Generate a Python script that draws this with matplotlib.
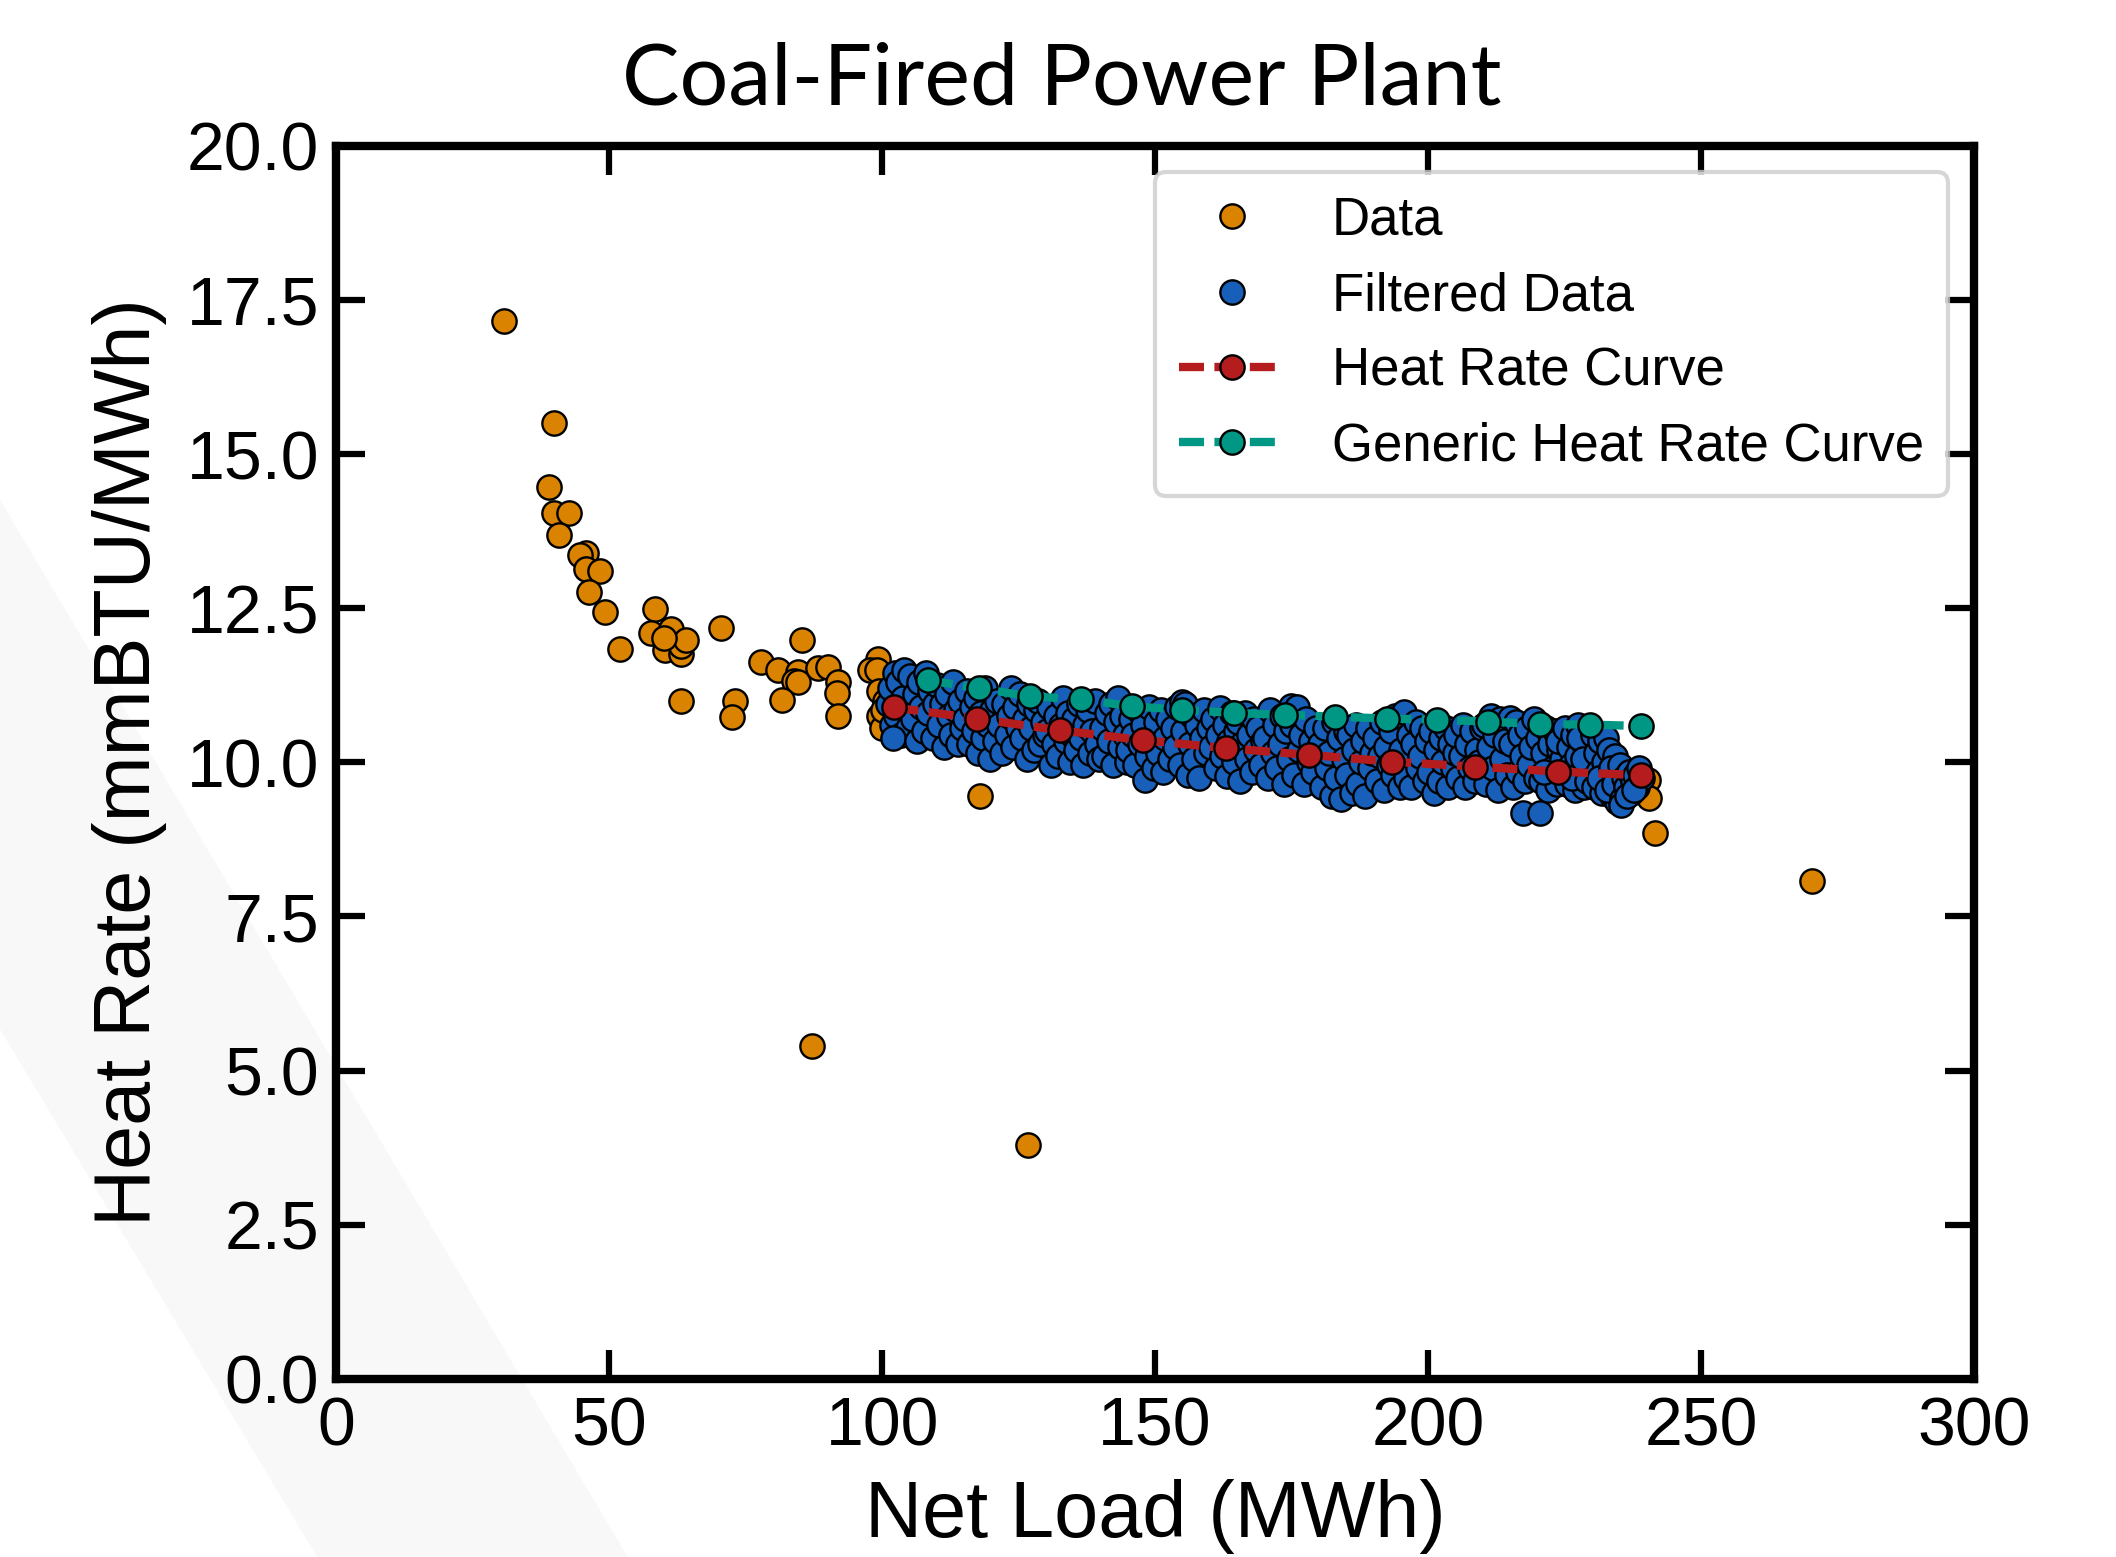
import matplotlib
matplotlib.use("Agg")
import matplotlib.pyplot as plt
from matplotlib.patches import Polygon

# ---------------- data ----------------
data_load = [30.8, 39.9, 39.0, 39.9, 42.7, 40.9, 45.7, 44.7, 45.7, 48.3, 46.4, 49.3,
             58.4, 52.0, 57.6, 61.4, 60.2, 63.1, 63.1, 64.1, 60.0, 63.1, 70.5, 73.1,
             72.5, 77.9, 80.9, 84.6, 83.9, 84.6, 81.6, 85.3, 88.3, 90.1, 91.9, 91.8,
             91.9, 99.3, 97.8, 99.0, 99.5, 99.5, 100.0, 100.5, 100.2, 87.2, 126.8,
             117.9, 241.6, 270.3, 240.3, 240.5]
data_rate = [17.16, 15.50, 14.46, 14.04, 14.04, 13.68, 13.40, 13.37, 13.13, 13.10, 12.77, 12.43,
             12.49, 11.84, 12.10, 12.17, 11.82, 11.75, 11.89, 11.99, 12.02, 10.99, 12.18, 10.99,
             10.73, 11.63, 11.49, 11.47, 11.32, 11.30, 11.01, 11.98, 11.53, 11.54, 11.30, 11.12,
             10.75, 11.67, 11.49, 11.49, 11.15, 10.75, 10.55, 11.00, 10.85, 5.40, 3.79,
             9.45, 8.85, 8.07, 9.71, 9.42]

filtered_load = [
    101.0, 101.5, 101.8, 102.3, 102.6, 103.0, 103.4, 103.8, 104.1, 104.5, 104.8, 102.0,
    105.2, 105.6, 106.0, 106.4, 106.8, 107.2, 107.6, 108.0, 108.4, 108.8, 109.3, 109.7,
    110.1, 110.5, 110.9, 111.3, 111.8, 112.2, 112.6, 113.0, 113.5, 113.9, 114.3, 114.7,
    115.1, 115.5, 115.9, 116.4, 116.8, 117.2, 117.6, 118.1, 118.5, 118.9, 119.4, 119.8,
    120.2, 120.6, 121.0, 121.5, 121.9, 122.3, 122.8, 123.2, 123.6, 124.0, 124.4, 124.8,
    125.2, 125.6, 126.1, 126.5, 126.9, 127.3, 127.8, 128.2, 128.6, 129.0, 129.5, 129.9,
    130.2, 130.6, 131.0, 131.4, 131.9, 132.3, 132.7, 133.1, 133.6, 134.0, 134.4, 134.8,
    135.1, 135.5, 136.0, 136.4, 136.8, 137.2, 137.7, 138.1, 138.5, 138.9, 139.4, 139.8,
    140.2, 140.6, 141.1, 141.5, 141.9, 142.3, 142.8, 143.2, 143.6, 144.0, 144.5, 144.9,
    145.1, 145.5, 146.0, 146.4, 146.8, 147.2, 147.7, 148.1, 148.5, 148.9, 149.4, 149.8,
    150.2, 150.6, 151.1, 151.5, 151.9, 152.3, 152.8, 153.2, 153.6, 154.0, 154.5, 154.9,
    155.1, 155.5, 156.0, 156.4, 156.8, 157.2, 157.7, 158.1, 158.5, 158.9, 159.4, 159.8,
    160.2, 160.6, 161.1, 161.5, 161.9, 162.3, 162.8, 163.2, 163.6, 164.0, 164.5, 164.9,
    165.1, 165.5, 166.0, 166.4, 166.8, 167.2, 167.7, 168.1, 168.5, 168.9, 169.4, 169.8,
    170.2, 170.6, 171.1, 171.5, 171.9, 172.3, 172.8, 173.2, 173.6, 174.0, 174.5, 174.9,
    175.1, 175.5, 176.0, 176.4, 176.8, 177.2, 177.7, 178.1, 178.5, 178.9, 179.4, 179.8,
    180.2, 180.6, 181.1, 181.5, 181.9, 182.3, 182.8, 183.2, 183.6, 184.0, 184.5, 184.9,
    185.1, 185.5, 186.0, 186.4, 186.8, 187.2, 187.7, 188.1, 188.5, 188.9, 189.4, 189.8,
    190.2, 190.6, 191.1, 191.5, 191.9, 192.3, 192.8, 193.2, 193.6, 194.0, 194.5, 194.9,
    195.1, 195.5, 196.0, 196.4, 196.8, 197.2, 197.7, 198.1, 198.5, 198.9, 199.4, 199.8,
    200.2, 200.6, 201.1, 201.5, 201.9, 202.3, 202.8, 203.2, 203.6, 204.0, 204.5, 204.9,
    205.1, 205.5, 206.0, 206.4, 206.8, 207.2, 207.7, 208.1, 208.5, 208.9, 209.4, 209.8,
    210.2, 210.6, 211.1, 211.5, 211.9, 212.3, 212.8, 213.2, 213.6, 214.0, 214.5, 214.9,
    215.1, 215.5, 216.0, 216.4, 216.8, 217.2, 217.7, 218.1, 218.5, 218.9, 219.4, 219.8, 217.4, 220.4,
    220.2, 220.6, 221.1, 221.5, 221.9, 222.3, 222.8, 223.2, 223.6, 224.0, 224.5, 224.9, 221.3, 223.8,
    225.1, 225.4, 225.8, 226.1, 226.5, 226.8, 227.2, 227.5, 227.9, 228.2, 228.6, 228.9, 229.3, 229.6,
    226.3, 227.7, 228.4, 229.1,
    230.1, 230.4, 230.8, 231.1, 231.5, 231.8, 232.2, 232.5, 232.9, 233.2, 233.6, 233.9, 234.3, 234.6,
    231.3, 232.7, 233.4, 234.1,
    235.1, 235.5, 235.9, 236.3, 236.7, 237.1, 237.5, 237.9, 238.3, 238.7, 239.1, 235.3, 236.5, 237.7,
]
filtered_rate = [
    10.95, 11.20, 10.60, 11.45, 10.75, 11.30, 10.45, 11.05, 11.50, 10.85, 10.55, 10.40,
    11.40, 10.70, 11.10, 10.35, 11.30, 10.90, 10.50, 11.45, 10.80, 11.15, 10.40, 10.95,
    11.25, 10.60, 10.95, 10.25, 11.10, 10.75, 10.45, 11.30, 10.85, 10.30, 11.00, 10.55,
    10.70, 11.15, 10.30, 10.90, 10.50, 11.05, 10.15, 10.80, 10.40, 11.20, 10.60, 10.05,
    10.85, 10.35, 11.00, 10.60, 10.15, 10.95, 10.45, 10.75, 11.20, 10.25, 10.90, 10.55,
    11.10, 10.40, 10.70, 10.05, 10.95, 10.55, 10.20, 10.85, 11.00, 10.30, 10.65, 10.45,
    10.50, 10.90, 9.95, 10.30, 10.75, 10.10, 10.60, 11.05, 10.35, 10.80, 10.00, 10.45,
    10.70, 10.20, 10.95, 10.40, 9.95, 10.60, 10.85, 10.15, 10.50, 11.00, 10.30, 10.05,
    10.55, 10.10, 10.80, 10.35, 10.95, 9.95, 10.65, 11.05, 10.25, 10.75, 10.45, 10.00,
    10.20, 10.70, 10.45, 9.95, 10.85, 10.30, 10.60, 9.72, 10.10, 10.90, 10.40, 9.90,
    10.65, 10.15, 10.85, 9.85, 10.40, 10.70, 10.05, 10.55, 10.25, 10.90, 9.95, 10.98,
    10.50, 10.95, 9.80, 10.30, 10.75, 10.05, 10.60, 9.75, 10.40, 10.85, 10.15, 10.55,
    10.25, 10.70, 9.90, 10.45, 10.88, 10.10, 10.60, 9.78, 10.35, 10.80, 10.00, 10.50,
    10.65, 9.70, 10.30, 10.80, 10.05, 10.45, 9.85, 10.70, 10.20, 10.55, 9.95, 10.35,
    10.40, 9.75, 10.85, 10.15, 10.60, 9.90, 10.30, 10.75, 9.65, 10.50, 10.05, 10.92,
    10.60, 9.80, 10.90, 10.20, 10.45, 9.65, 10.70, 10.00, 10.35, 9.85, 10.55, 10.15,
    10.30, 9.60, 10.55, 9.90, 10.15, 9.45, 10.65, 9.75, 10.40, 9.41, 10.05, 10.50,
    9.80, 10.45, 9.50, 10.20, 10.60, 9.65, 10.00, 10.35, 9.45, 10.55, 9.90, 10.15,
    10.40, 9.70, 10.10, 10.65, 9.55, 10.25, 9.95, 10.50, 9.80, 10.75, 10.05, 9.60,
    10.20, 10.81, 9.75, 10.45, 9.60, 10.30, 10.65, 9.90, 10.10, 10.55, 9.70, 10.35,
    9.85, 10.50, 9.50, 10.20, 9.70, 10.40, 10.00, 10.55, 9.60, 10.30, 9.90, 10.15,
    10.45, 9.75, 10.10, 10.60, 9.60, 10.30, 9.90, 10.50, 9.70, 10.20, 10.00, 10.55,
    10.60, 9.65, 10.25, 10.75, 9.90, 10.45, 9.55, 10.70, 10.05, 10.35, 9.80, 10.72,
    10.30, 9.60, 10.65, 9.85, 10.45, 10.10, 9.70, 10.55, 9.95, 10.25, 10.70, 9.75, 9.17, 9.17,
    10.40, 9.70, 10.15, 10.55, 9.55, 10.30, 9.90, 10.50, 9.65, 10.20, 10.05, 10.45, 9.85, 10.35,
    10.55, 9.65, 10.25, 9.95, 10.45, 9.55, 10.10, 10.60, 9.80, 10.35, 9.60, 10.20, 9.90, 10.50,
    9.75, 10.40, 10.05, 9.70,
    10.45, 9.60, 10.15, 9.85, 10.35, 9.50, 10.00, 10.40, 9.70, 10.20, 9.45, 9.95, 10.10, 9.35,
    9.75, 9.55, 9.90, 9.65,
    9.95, 9.40, 9.75, 9.60, 9.85, 9.50, 9.70, 9.80, 9.60, 9.90, 9.75, 9.30, 9.45, 9.55,
]

curve_load = [102.1, 117.3, 132.5, 147.7, 163.0, 178.2, 193.4, 208.6, 223.8, 239.0]
curve_rate = [10.89, 10.71, 10.52, 10.36, 10.23, 10.12, 10.01, 9.93, 9.85, 9.79]

generic_load = [108.4, 117.7, 127.0, 136.4, 145.7, 155.0, 164.4, 173.7, 183.0, 192.4,
                201.7, 211.0, 220.4, 229.7, 239.0]
generic_rate = [11.33, 11.20, 11.07, 11.02, 10.91, 10.85, 10.80, 10.77, 10.74, 10.71,
                10.69, 10.66, 10.62, 10.61, 10.59]

x_ticks = [0, 50, 100, 150, 200, 250, 300]
y_ticks = [0.0, 2.5, 5.0, 7.5, 10.0, 12.5, 15.0, 17.5, 20.0]

# ---------------- style ----------------
C_DATA = "#D98300"
C_FILT = "#175FB8"
C_CURVE = "#B51C1E"
C_GEN = "#009784"

plt.rcParams["font.family"] = ["Liberation Sans", "DejaVu Sans"]

fig = plt.figure(figsize=(21.16, 15.57), dpi=100)
fig.patch.set_facecolor("white")

# faint diagonal background band (slide decoration)
band = Polygon([(0, 0.679), (0.2966, 0.0), (0.1499, 0.0), (0, 0.339)],
               closed=True, transform=fig.transFigure, facecolor="#f8f8f8",
               edgecolor="none", zorder=-10)
fig.patches.append(band)

ax = fig.add_axes([0.1588, 0.1144, 0.9330 - 0.1588, 0.9064 - 0.1144])
ax.set_facecolor("none")

ms = 17.5
mew = 1.7
lw = 6.0
dash = (3.0, 1.25)
ax.plot(data_load, data_rate, linestyle="none", marker="o", markersize=ms,
        markerfacecolor=C_DATA, markeredgecolor="black", markeredgewidth=mew,
        label="Data", zorder=2)
ax.plot(filtered_load, filtered_rate, linestyle="none", marker="o", markersize=ms,
        markerfacecolor=C_FILT, markeredgecolor="black", markeredgewidth=mew,
        label="Filtered Data", zorder=3)
ax.plot(curve_load, curve_rate, linestyle=(0, dash), linewidth=lw, color=C_CURVE,
        marker="o", markersize=ms, markerfacecolor=C_CURVE, markeredgecolor="black",
        markeredgewidth=mew, label="Heat Rate Curve", zorder=4)
ax.plot(generic_load, generic_rate, linestyle=(0, dash), linewidth=lw, color=C_GEN,
        marker="o", markersize=ms, markerfacecolor=C_GEN, markeredgecolor="black",
        markeredgewidth=mew, label="Generic Heat Rate Curve", zorder=5)

ax.set_xlim(0, 300)
ax.set_ylim(0, 20)
ax.set_xticks(x_ticks)
ax.set_yticks(y_ticks)
ax.set_xticklabels([str(v) for v in x_ticks])
ax.set_yticklabels([f"{v:.1f}" for v in y_ticks])

for s in ax.spines.values():
    s.set_linewidth(6)
ax.tick_params(axis="both", which="major", direction="in", length=21, width=4.5,
               labelsize=49, top=True, right=True, pad=12)

ax.set_xlabel("Net Load (MWh)", fontsize=57, labelpad=14)
ax.set_ylabel("Heat Rate (mmBTU/MWh)", fontsize=57, labelpad=14)

fig.text(0.502, 0.933, "Coal-Fired Power Plant", ha="center", va="baseline",
         fontsize=62, family=["Lato", "DejaVu Sans"])

leg = ax.legend(loc="upper right", fontsize=38, labelspacing=0.48, handlelength=2.0,
                handletextpad=0.9, borderaxespad=0.5, borderpad=0.45, numpoints=1)
leg.get_frame().set_linewidth(3)

fig.savefig("out.png", dpi=100)
